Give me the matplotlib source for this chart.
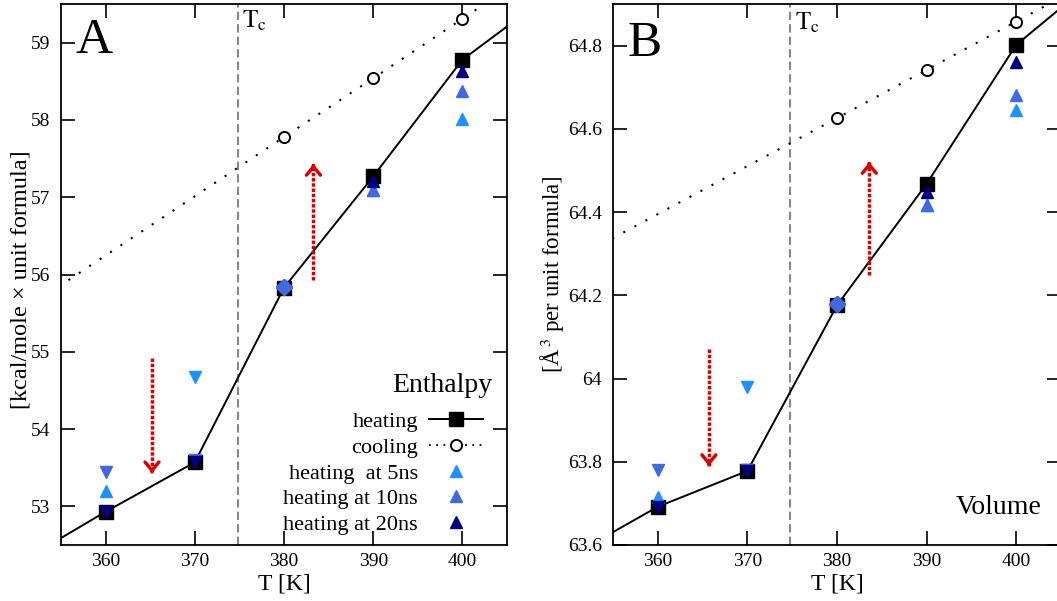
import matplotlib
matplotlib.use('Agg')
import matplotlib.pyplot as plt
from matplotlib.ticker import FuncFormatter

plt.rcParams['font.family'] = ['Liberation Serif', 'DejaVu Serif']
plt.rcParams['mathtext.fontset'] = 'stix'

# temperatures
T = [360, 370, 380, 390, 400]
T_line = [350, 360, 370, 380, 390, 400, 410]   # line includes points off the shown range
T_cool = [350, 380, 390, 400, 410]

# panel A - enthalpy [kcal/mole x unit formula]
H_heat = [52.25, 52.93, 53.57, 55.83, 57.27, 58.78, 59.64]
H_cool = [55.48, 57.78, 58.54, 59.31, 60.08]
H_5ns = [53.20, 54.67, 55.84, 57.09, 58.01]
H_10ns = [53.44, 53.60, 55.84, 57.10, 58.38]
H_20ns = [52.93, 53.58, 55.84, 57.21, 58.64]

# panel B - volume [A^3 per unit formula]
V_heat = [63.57, 63.692, 63.778, 64.176, 64.468, 64.802, 64.98]
V_cool = [64.28, 64.626, 64.742, 64.858, 64.974]
V_5ns = [63.716, 63.98, 64.18, 64.418, 64.646]
V_10ns = [63.78, 63.78, 64.18, 64.418, 64.682]
V_20ns = [63.692, 63.778, 64.18, 64.448, 64.762]

# marker shape per temperature (down = below transition)
mk_5ns = ['^', 'v', 'D', '^', '^']
mk_10ns = ['v', 'v', 'D', '^', '^']
mk_20ns = ['v', 'v', 'D', '^', '^']

c5, c10, c20 = '#1E90FF', '#4169E1', '#000080'
Tc = 374.8


def draw_panel(ax, heat, cool, s5, s10, s20, ylim, arrows):
    ax.axvline(Tc, color='#888888', ls=(0, (4, 2)), lw=1.5, zorder=1)
    ax.plot(T_line, heat, '-', color='black', lw=1.4, zorder=2)
    ax.plot(T, heat[1:-1], 's', color='black', ms=10, zorder=3)
    ax.plot(T_cool, cool, color='black', ls=(0, (1, 5)), lw=1.5, zorder=2)
    ax.plot(T_cool[1:-1], cool[1:-1], 'o', mfc='white', mec='black', mew=1.4, ms=8, zorder=3)
    for vals, mks, col in [(s5, mk_5ns, c5), (s10, mk_10ns, c10), (s20, mk_20ns, c20)]:
        for t, v, m in zip(T, vals, mks):
            if m == 'D':
                ax.plot(t, v, 'D', color=c10, ms=8, zorder=4)
            else:
                ax.plot(t, v, m, color=col, ms=9, zorder=4)
    for x, y0, y1 in arrows:
        ax.plot([x, x], [y0, y1], color='#DD0000', lw=2.5, ls=(0, (1, 0.5)), zorder=2)
        ax.annotate('', xy=(x, y1), xytext=(x, y1 - (y1 - y0) * 0.02),
                    arrowprops=dict(arrowstyle='->,head_length=0.6,head_width=0.5',
                                    color='#DD0000', lw=2.5))
    ax.set_xlim(355, 405)
    ax.set_ylim(*ylim)
    ax.set_xticks(T)
    ax.tick_params(direction='in', top=True, right=True, length=10, width=1.2,
                   labelsize=14)
    ax.tick_params(axis='y', pad=8)
    ax.tick_params(axis='x', pad=6)
    for s in ax.spines.values():
        s.set_linewidth(1.3)
    ax.set_xlabel('T [K]', fontsize=17, labelpad=2)


fig = plt.figure(figsize=(10.57, 6.01), dpi=100)
axA = fig.add_axes([0.0577, 0.0932, 0.422, 0.9])
axB = fig.add_axes([0.580, 0.0932, 0.4238, 0.9])

draw_panel(axA, H_heat, H_cool, H_5ns, H_10ns, H_20ns, (52.5, 59.5),
           [(365.2, 54.92, 53.43), (383.3, 55.93, 57.43)])
draw_panel(axB, V_heat, V_cool, V_5ns, V_10ns, V_20ns, (63.6, 64.9),
           [(365.7, 64.07, 63.79), (383.6, 64.248, 64.52)])

axA.set_yticks([53, 54, 55, 56, 57, 58, 59])
axB.set_yticks([63.6, 63.8, 64.0, 64.2, 64.4, 64.6, 64.8])
axB.yaxis.set_major_formatter(FuncFormatter(lambda v, p: '%g' % round(v, 2)))

axA.set_ylabel('[kcal/mole × unit formula]', fontsize=17.5)
axA.yaxis.set_label_coords(-0.065, 0.49)
axB.set_ylabel('[Å$^{\\,3}$ per unit formula]', fontsize=16.5)
axB.yaxis.set_label_coords(-0.102, 0.5)

axA.text(356.6, 59.32, 'A', fontsize=37, va='top', ha='left')
axB.text(356.6, 64.86, 'B', fontsize=37, va='top', ha='left')
axA.text(375.3, 59.45, r'$\mathrm{T_c}$', fontsize=18, va='top')
axB.text(375.3, 64.885, r'$\mathrm{T_c}$', fontsize=18, va='top')
axB.text(402.8, 63.689, 'Volume', fontsize=20, ha='right', va='center')
axA.text(403.4, 54.57, 'Enthalpy', fontsize=20, ha='right', va='center')

# legend handles
hh, = axA.plot([], [], '-s', color='black', ms=10, lw=1.4)
hc, = axA.plot([], [], color='black', ls=(0, (1, 3)), lw=1.3, marker='o',
               mfc='white', mec='black', mew=1.4, ms=8)
h5, = axA.plot([], [], '^', color=c5, ms=9, ls='none')
h10, = axA.plot([], [], '^', color=c10, ms=9, ls='none')
h20, = axA.plot([], [], '^', color=c20, ms=9, ls='none')
axA.legend([hh, hc, h5, h10, h20],
           ['heating', 'cooling', 'heating  at 5ns', 'heating at 10ns', 'heating at 20ns'],
           loc='lower right', bbox_to_anchor=(0.98, -0.01), frameon=False,
           markerfirst=False, fontsize=16, handlelength=2.4, labelspacing=0.23,
           handletextpad=0.5, borderpad=0.2)

fig.savefig('out.png', dpi=100)
